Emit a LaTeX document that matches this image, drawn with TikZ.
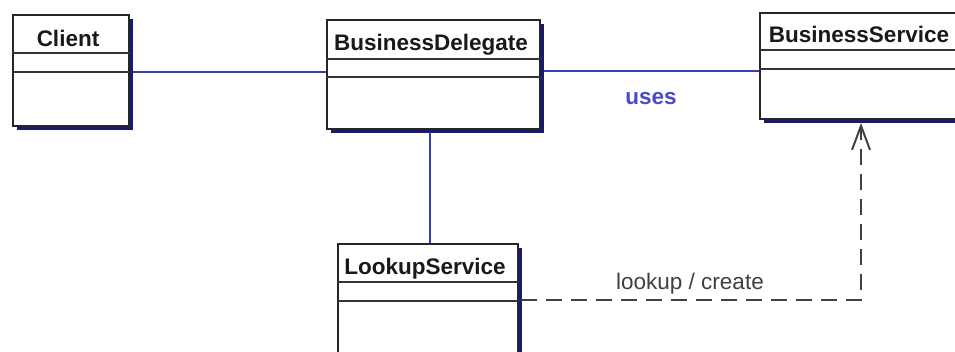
\documentclass[tikz,border=0pt]{standalone}
\usepackage{fontspec}
\setmainfont{Liberation Sans}
\usetikzlibrary{calc,shadows,arrows.meta}
\definecolor{assoc}{HTML}{3A3AB8}
\definecolor{shade}{HTML}{1A1A70}
\definecolor{dep}{HTML}{404040}
\definecolor{useslbl}{HTML}{4A4AC8}
\tikzset{
  umlbox/.style={draw=black!85, line width=1.8pt, fill=white, anchor=north west,
    inner sep=0pt, drop shadow={shadow xshift=4pt, shadow yshift=-4pt, fill=shade, opacity=1}},
  divider/.style={draw=black!80, line width=1.8pt},
  clsname/.style={anchor=base, inner sep=0pt, font=\bfseries\fontsize{22.5}{27}\selectfont, text=black!90},
  assocline/.style={draw=assoc, line width=1.5pt},
  depline/.style={draw=dep, line width=2.2pt, dash pattern=on 16pt off 9pt,
    -{Straight Barb[length=24pt, width=18pt, line width=2pt]}},
  lbl/.style={anchor=base, inner sep=0pt, font=\fontsize{22.5}{27}\selectfont},
}
\begin{document}
\begin{tikzpicture}[x=1pt, y=1pt]
\useasboundingbox (0,0) rectangle (955,-352);
\clip (0,0) rectangle (955,-352);
\fill[white] (0,0) rectangle (955,-352);

% boxes
\node[umlbox, minimum width=116pt, minimum height=111pt] (client) at (12,-14) {};
\node[umlbox, minimum width=213pt, minimum height=109pt] (delegate) at (326,-19) {};
\node[umlbox, minimum width=205pt, minimum height=106pt] (service) at (759,-12) {};
\node[umlbox, minimum width=180pt, minimum height=125pt] (lookup) at (337,-243) {};

% dividers
\foreach \n/\a/\b in {client/39/58, delegate/40/58, service/38/57, lookup/39/58}{
  \draw[divider] ($(\n.north west)+(0,-\a)$) -- ($(\n.north east)+(0,-\a)$);
  \draw[divider] ($(\n.north west)+(0,-\b)$) -- ($(\n.north east)+(0,-\b)$);
}

% class names
\node[clsname] (clientname) at (68,-47) {Client};
\node[clsname] (delegatename) at (431,-51) {BusinessDelegate};
\node[clsname] (servicename) at (859,-43) {BusinessService};
\node[clsname] (lookupname) at (425,-275) {LookupService};

% associations
\coordinate (c1) at (133,-72);
\draw[assocline] (c1) -- (c1 -| delegate.west);
\coordinate (d1) at (544,-71);
\draw[assocline] (d1) -- (d1 -| service.west);
\coordinate (d2) at (430,-132);
\draw[assocline] (d2) -- (d2 |- lookup.north);

\node[lbl, text=useslbl, font=\bfseries\fontsize{22.5}{27}\selectfont] (uses) at (651,-105) {uses};

% dependency
\coordinate (l1) at (521,-300);
\coordinate (corner) at (861,-300);
\coordinate (tip) at (861,-123);
\draw[depline] (l1) -- (corner) -- (tip);
\node[lbl, text=black!75] (lookuplbl) at (690,-290) {lookup / create};
\end{tikzpicture}
\end{document}
